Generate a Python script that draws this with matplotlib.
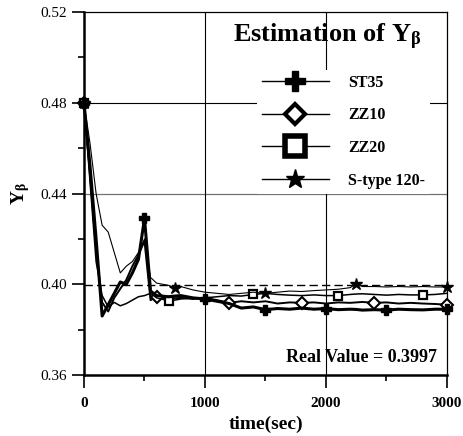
import matplotlib
matplotlib.use('Agg')
import matplotlib.pyplot as plt
from matplotlib.lines import Line2D

plt.rcParams['font.family'] = ['Liberation Serif', 'DejaVu Serif']
plt.rcParams['mathtext.default'] = 'regular'

# time grid (sec)
t = [0, 50, 100, 150, 200, 250, 300, 350, 400, 450, 500, 550, 600,
     700, 750, 800, 900, 1000, 1100, 1200, 1300, 1400, 1500, 1600, 1700,
     1800, 1900, 2000, 2100, 2200, 2250, 2300, 2400, 2500, 2600, 2700,
     2800, 2900, 3000]

st35 = [0.480, 0.452, 0.420, 0.386, 0.391, 0.396, 0.401, 0.400, 0.405, 0.411, 0.429, 0.397, 0.395,
        0.3945, 0.3948, 0.3950, 0.3940, 0.3935, 0.3925, 0.3915, 0.3895, 0.3900, 0.3888, 0.3893, 0.3890,
        0.3895, 0.3890, 0.3893, 0.3888, 0.3890, 0.3889, 0.3886, 0.3888, 0.3886, 0.3890, 0.3888,
        0.3887, 0.3890, 0.3890]

zz10 = [0.480, 0.448, 0.415, 0.392, 0.388, 0.394, 0.398, 0.402, 0.408, 0.413, 0.419, 0.393, 0.3945,
        0.3935, 0.3938, 0.3940, 0.3935, 0.3940, 0.3930, 0.3918, 0.3925, 0.3920, 0.3925, 0.3915, 0.3920,
        0.3918, 0.3920, 0.3915, 0.3920, 0.3918, 0.3920, 0.3922, 0.3918, 0.3920, 0.3915, 0.3918,
        0.3915, 0.3913, 0.3910]

zz20 = [0.480, 0.445, 0.410, 0.395, 0.390, 0.392, 0.3905, 0.3915, 0.393, 0.3945, 0.395, 0.396, 0.394,
        0.3927, 0.3930, 0.3935, 0.3940, 0.3940, 0.3945, 0.3950, 0.3948, 0.3955, 0.3960, 0.3955, 0.3952,
        0.3950, 0.3953, 0.3950, 0.3950, 0.3955, 0.3957, 0.3958, 0.3955, 0.3952, 0.3955, 0.3953,
        0.3953, 0.3955, 0.3960]

stype = [0.480, 0.462, 0.440, 0.426, 0.423, 0.414, 0.405, 0.408, 0.410, 0.414, 0.420, 0.403, 0.4005,
         0.3995, 0.3985, 0.3990, 0.3975, 0.3965, 0.3960, 0.3955, 0.3960, 0.3965, 0.3960, 0.3965, 0.3970,
         0.3968, 0.3972, 0.3975, 0.3978, 0.3985, 0.4003, 0.3990, 0.3990, 0.3988, 0.3990, 0.3988,
         0.3990, 0.3988, 0.3988]

real_value = 0.3997
labels = ['ST35', 'ZZ10', 'ZZ20', 'S-type 120-']


def marks(step):
    return [i for i, v in enumerate(t) if v % step == 0]


def main():
    fig = plt.figure(figsize=(4.64, 4.36), dpi=100)
    ax = fig.add_axes([84/464, 1-375/436, 363/464, 363/436])

    ax.set_xlim(0, 3000)
    ax.set_ylim(0.36, 0.52)

    # grid-ish lines
    ax.axhline(0.48, color='k', lw=0.8, zorder=1)
    ax.axhline(0.44, color='0.45', lw=0.9, zorder=1)
    for v in [1000, 2000]:
        ax.axvline(v, color='k', lw=0.8, zorder=1)
    ax.axhline(real_value, color='k', lw=1.0, ls=(0, (6, 3)), zorder=1)

    ax.plot(t, st35, color='k', lw=2.2, marker='P', ms=7, markevery=marks(500), clip_on=False, zorder=4)
    ax.plot(t, zz10, color='k', lw=1.4, marker='D', ms=6, mfc='white', mew=1.5,
            markevery=marks(600), clip_on=False, zorder=3)
    ax.plot(t, zz20, color='k', lw=1.1, marker='s', ms=6, mfc='white', mew=1.6,
            markevery=marks(700), clip_on=False, zorder=3)
    ax.plot(t, stype, color='k', lw=0.8, marker='*', ms=9, markevery=marks(750), clip_on=False, zorder=3)

    ax.set_xticks([0, 1000, 2000, 3000])
    ax.set_xticks([500, 1500, 2500], minor=True)
    ax.set_yticks([0.36, 0.40, 0.44, 0.48, 0.52])
    ax.set_yticklabels(['0.36', '0.40', '0.44', '0.48', '0.52'])
    ax.set_yticks([0.38, 0.42, 0.46, 0.50], minor=True)
    ax.tick_params(which='major', direction='out', length=9, width=1.2, labelsize=11)
    ax.tick_params(which='minor', direction='out', length=4, width=1.2)
    ax.tick_params(axis='x', which='major', pad=7)
    for lab in ax.get_xticklabels():
        lab.set_fontweight('bold')

    for s in ['left', 'bottom']:
        ax.spines[s].set_linewidth(1.8)
    for s in ['top', 'right']:
        ax.spines[s].set_linewidth(0.9)

    ax.set_xlabel('time(sec)', fontsize=14, fontweight='bold', labelpad=4)
    ax.set_ylabel(r'Y$_\beta$', fontsize=14, fontweight='bold', labelpad=6)

    ax.text(2920, 0.3657, 'Real Value = 0.3997', fontsize=13, fontweight='bold',
            ha='right', va='baseline')
    ax.text(1230, 0.5092, r'Estimation of Y$_\beta$', fontsize=19, fontweight='bold',
            ha='left', va='center')

    handles = [
        Line2D([], [], color='k', lw=1, marker='P', ms=15),
        Line2D([], [], color='k', lw=1, marker='D', ms=10, mfc='white', mew=3),
        Line2D([], [], color='k', lw=1, marker='s', ms=14, mfc='white', mew=4),
        Line2D([], [], color='k', lw=1, marker='*', ms=14),
    ]
    ax.legend(handles, labels, loc='upper left', bbox_to_anchor=(0.476, 0.841),
              prop={'weight': 'bold', 'size': 11.5}, frameon=True, framealpha=1,
              facecolor='white', edgecolor='none', fancybox=False,
              handlelength=4.2, handletextpad=1.2, labelspacing=1.05,
              borderpad=0.3, borderaxespad=0)

    fig.savefig('out.png', dpi=100)
    plt.close(fig)


if __name__ == "__main__":
    main()
